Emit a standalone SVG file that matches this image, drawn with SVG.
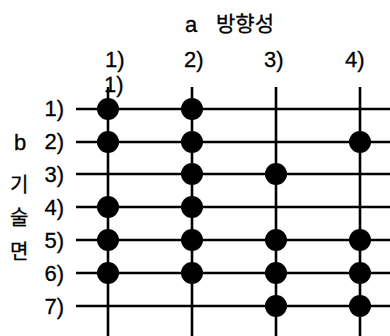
<svg xmlns="http://www.w3.org/2000/svg" width="390" height="336" viewBox="0 0 390 336">
<style>
text{font-family:"Liberation Sans","Noto Sans CJK KR",sans-serif;font-size:22px;fill:#000;stroke:#000;stroke-width:0.3}
.k{font-family:"Noto Sans CJK KR",sans-serif;font-size:21px}
.v{font-family:"Noto Sans CJK KR",sans-serif;font-size:20px}
.r{text-anchor:end}
line{stroke:#000;stroke-width:2.6}
circle{fill:#000}
</style>
<rect width="390" height="336" fill="#fff"/>
<g id="title"><text x="185" y="32">a</text><text class="k" x="216" y="31">방향성</text></g>
<g id="col-labels">
<text x="105" y="67">1)</text>
<text x="184" y="67">2)</text>
<text x="264" y="67">3)</text>
<text x="345" y="67">4)</text>
<text x="104" y="92">1)</text>
</g>
<g id="row-labels">
<text class="r" x="64" y="116">1)</text>
<text class="r" x="64" y="149">2)</text>
<text class="r" x="64" y="182">3)</text>
<text class="r" x="64" y="215">4)</text>
<text class="r" x="64" y="248">5)</text>
<text class="r" x="64" y="281">6)</text>
<text class="r" x="64" y="314">7)</text>
<text x="14" y="150">b</text>
<text class="v" x="10" y="192">기</text>
<text class="v" x="10" y="225">술</text>
<text class="v" x="10" y="259">면</text>
</g>
<g id="connectors">
<line x1="76" y1="109" x2="390" y2="109"/>
<line x1="76" y1="142" x2="390" y2="142"/>
<line x1="76" y1="174" x2="390" y2="174"/>
<line x1="76" y1="207" x2="390" y2="207"/>
<line x1="76" y1="240" x2="390" y2="240"/>
<line x1="76" y1="273" x2="390" y2="273"/>
<line x1="76" y1="306" x2="390" y2="306"/>
<line x1="108" y1="87" x2="108" y2="336"/>
<line x1="192" y1="87" x2="192" y2="336"/>
<line x1="276" y1="87" x2="276" y2="336"/>
<line x1="360" y1="87" x2="360" y2="336"/>
</g>
<g id="dots">
<circle cx="108" cy="109" r="11"/><circle cx="192" cy="109" r="11"/>
<circle cx="108" cy="142" r="11"/><circle cx="192" cy="142" r="11"/><circle cx="360" cy="142" r="11"/>
<circle cx="192" cy="174" r="11"/><circle cx="276" cy="174" r="11"/>
<circle cx="108" cy="207" r="11"/><circle cx="192" cy="207" r="11"/>
<circle cx="108" cy="240" r="11"/><circle cx="192" cy="240" r="11"/><circle cx="276" cy="240" r="11"/><circle cx="360" cy="240" r="11"/>
<circle cx="108" cy="273" r="11"/><circle cx="192" cy="273" r="11"/><circle cx="276" cy="273" r="11"/><circle cx="360" cy="273" r="11"/>
<circle cx="276" cy="306" r="11"/><circle cx="360" cy="306" r="11"/>
</g>
</svg>
